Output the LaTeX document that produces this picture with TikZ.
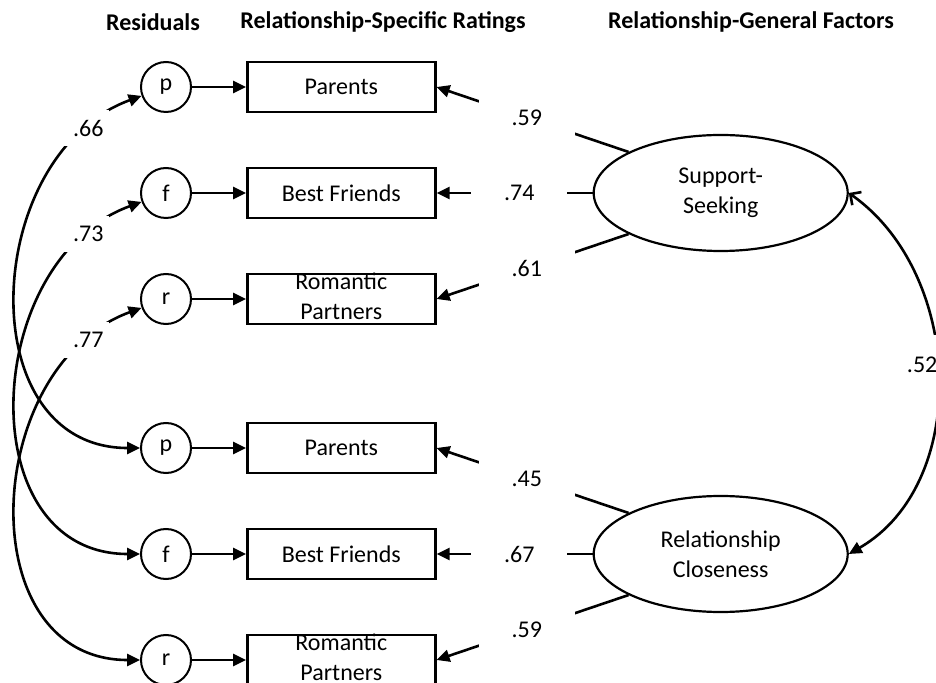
\documentclass[tikz,border=0pt]{standalone}
\usepackage{fontspec}
\setmainfont{Carlito}
\usetikzlibrary{positioning, shapes.geometric, arrows.meta}

\tikzset{
  resid/.style={circle, draw, line width=1pt, minimum size=25pt, inner sep=0pt},
  rating/.style={rectangle, draw, line width=1.3pt, minimum width=94pt, minimum height=25pt, inner sep=0pt},
  factor/.style={ellipse, draw, line width=1.1pt, minimum width=127pt, minimum height=58pt, inner sep=0pt, align=center},
  load/.style={->, line width=1.3pt},
  gap/.style={fill=white, minimum width=48pt, minimum height=18pt, inner sep=0pt},
  resgap/.style={fill=white, text width=24pt, align=right, inner xsep=3pt, inner ysep=0pt, minimum height=18pt, yshift=4pt},
  heading/.style={font=\fontsize{12}{15}\selectfont\bfseries}
}

\begin{document}
\begin{tikzpicture}[x=0.5pt, y=0.5pt, node distance=27pt and 27pt,
    >={Triangle[length=6.5pt, width=6pt]}, font=\fontsize{12}{15}\selectfont]
  \useasboundingbox (0,0) rectangle (936,-683);

  % headings
  \node[heading] (hres) at (153,-22) {Residuals};
  \node[heading] (hspec) at (383,-22) {Relationship-Specific Ratings};
  \node[heading] (hgen) at (751,-22) {Relationship-General Factors};

  % residuals
  \node[resid] (p1) at (166,-87) {p};
  \node[resid, below=of p1] (f1) {f};
  \node[resid, below=of f1] (r1) {r};
  \node[resid] (p2) at (166,-448) {p};
  \node[resid, below=of p2] (f2) {f};
  \node[resid, below=of f2] (r2) {r};

  % ratings
  \node[rating, right=of p1] (P1) {Parents};
  \node[rating, right=of f1] (F1) {Best Friends};
  \node[rating, right=of r1, label={[align=center, yshift=1.5pt]center:Romantic\\Partners}] (R1) {};
  \node[rating, right=of p2] (P2) {Parents};
  \node[rating, right=of f2] (F2) {Best Friends};
  \node[rating, right=of r2, label={[align=center, yshift=1.5pt]center:Romantic\\Partners}] (R2) {};

  % factors
  \node[factor, right=78pt of F1] (SS) {Support-\\Seeking};
  \node[factor, right=78pt of F2] (RC) {Relationship\\Closeness};

  \foreach \r/\b in {p1/P1, f1/F1, r1/R1, p2/P2, f2/F2, r2/R2}
    \draw[load] (\r) -- (\b);

  % loadings
  \draw[load] (SS.156) -- node[gap, pos=.53] {.59} (P1.east);
  \draw[load] (SS.west) -- node[gap, pos=.47] {.74} (F1.east);
  \draw[load] (SS.204) -- node[gap, pos=.53] {.61} (R1.east);
  \draw[load] (RC.156) -- node[gap, pos=.53] {.45} (P2.east);
  \draw[load] (RC.west) -- node[gap, pos=.47] {.67} (F2.east);
  \draw[load] (RC.204) -- node[gap, pos=.53] {.59} (R2.east);

  % residual correlations
  \draw[<->, line width=1.3pt] (p1) to[out=200, in=180, looseness=1.24] node[resgap, pos=.15] {.66} (p2);
  \draw[<->, line width=1.3pt] (f1) to[out=200, in=180, looseness=1.24] node[resgap, pos=.15] {.73} (f2);
  \draw[<->, line width=1.3pt] (r1) to[out=200, in=180, looseness=1.24] node[resgap, pos=.15] {.77} (r2);

  % factor correlation
  \draw[{Straight Barb[length=4pt, width=8pt]}->, line width=1.3pt] (SS.east) to[out=-35, in=30, looseness=1]
    node[pos=.47, fill=white, anchor=east, xshift=4pt, minimum height=30pt] {.52} (RC.east);
\end{tikzpicture}
\end{document}
